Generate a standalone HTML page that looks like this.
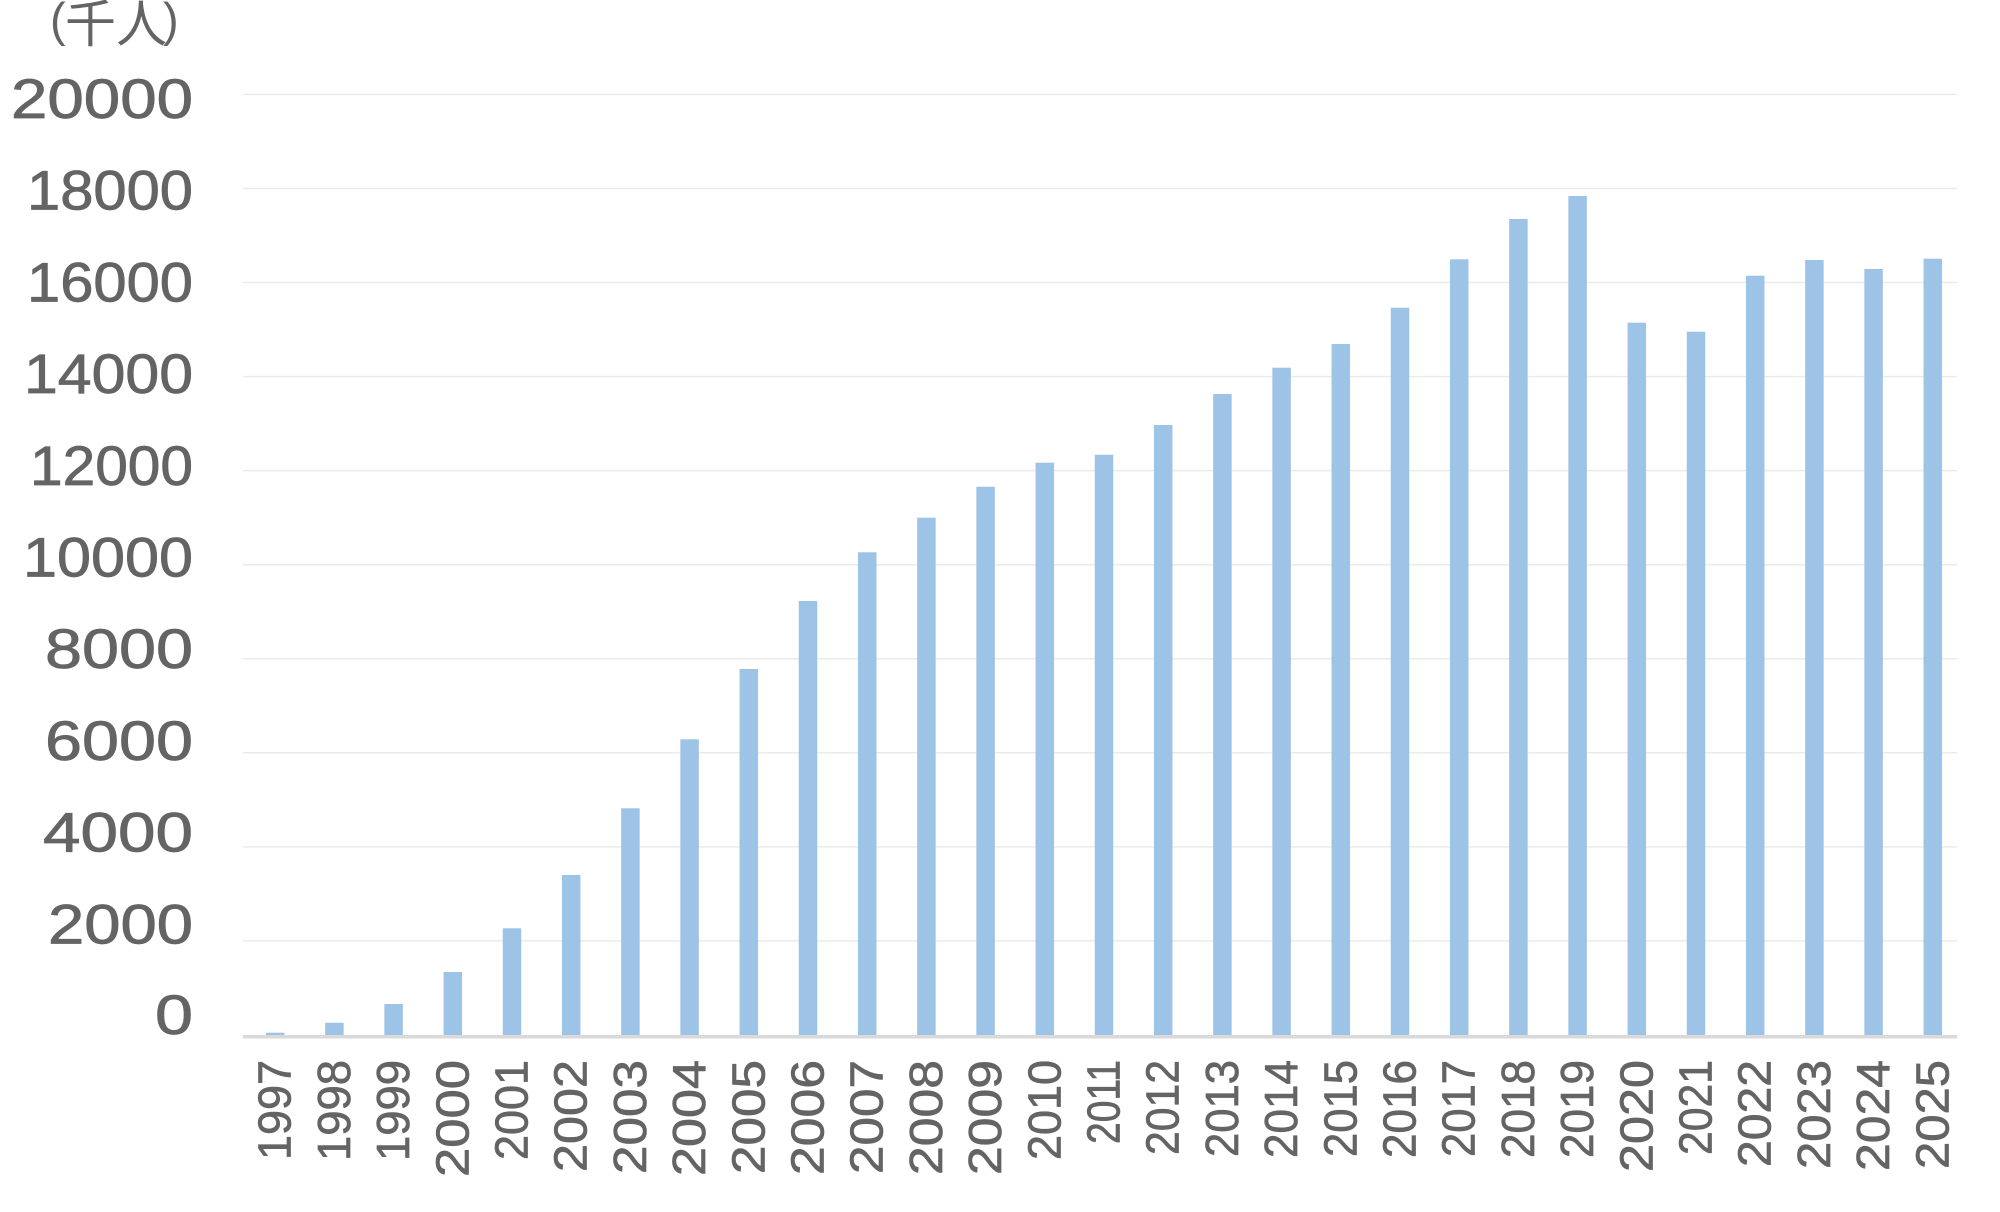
<!DOCTYPE html>
<html>
<head>
<meta charset="utf-8">
<style>
  html, body { margin:0; padding:0; background:#ffffff; }
  body { width:2000px; height:1212px; overflow:hidden; }
  svg { display:block; }
  .yl { font-family:"Liberation Sans", sans-serif; font-size:56px; fill:#646464; stroke:#646464; stroke-width:0.8; }
  .xl { font-family:"Liberation Sans", sans-serif; font-size:46px; fill:#646464; stroke:#646464; stroke-width:0.7; }
  .unit { fill:#646464; }
</style>
</head>
<body>
<svg width="2000" height="1212" viewBox="0 0 2000 1212" xmlns="http://www.w3.org/2000/svg">
  <rect x="0" y="0" width="2000" height="1212" fill="#ffffff"/>

  <!-- unit label -->
  <text class="unit" x="50" y="36" font-family="Liberation Sans, sans-serif" font-size="47">(</text>
  <text class="unit" x="65" y="42" font-family="Liberation Sans, 'Noto Sans CJK JP', sans-serif" font-size="51">千人</text>
  <text class="unit" x="163" y="36" font-family="Liberation Sans, sans-serif" font-size="47">)</text>

  <!-- gridlines -->
  <g stroke="#ebebeb" stroke-width="1.5">
    <line x1="243" y1="94.4" x2="1957" y2="94.4"/>
    <line x1="243" y1="188.5" x2="1957" y2="188.5"/>
    <line x1="243" y1="282.5" x2="1957" y2="282.5"/>
    <line x1="243" y1="376.6" x2="1957" y2="376.6"/>
    <line x1="243" y1="470.6" x2="1957" y2="470.6"/>
    <line x1="243" y1="564.7" x2="1957" y2="564.7"/>
    <line x1="243" y1="658.8" x2="1957" y2="658.8"/>
    <line x1="243" y1="752.8" x2="1957" y2="752.8"/>
    <line x1="243" y1="846.9" x2="1957" y2="846.9"/>
    <line x1="243" y1="940.9" x2="1957" y2="940.9"/>
  </g>

  <!-- y labels -->
  <g class="yl" text-anchor="end">
    <text x="193" y="118" textLength="182" lengthAdjust="spacingAndGlyphs">20000</text>
    <text x="193" y="209.7" textLength="166" lengthAdjust="spacingAndGlyphs">18000</text>
    <text x="193" y="301.4" textLength="166" lengthAdjust="spacingAndGlyphs">16000</text>
    <text x="193" y="393.1" textLength="169" lengthAdjust="spacingAndGlyphs">14000</text>
    <text x="193" y="484.8" textLength="163" lengthAdjust="spacingAndGlyphs">12000</text>
    <text x="193" y="576.5" textLength="170" lengthAdjust="spacingAndGlyphs">10000</text>
    <text x="193" y="668.2" textLength="148" lengthAdjust="spacingAndGlyphs">8000</text>
    <text x="193" y="759.9" textLength="148" lengthAdjust="spacingAndGlyphs">6000</text>
    <text x="193" y="851.6" textLength="150" lengthAdjust="spacingAndGlyphs">4000</text>
    <text x="193" y="943.3" textLength="145" lengthAdjust="spacingAndGlyphs">2000</text>
    <text x="193" y="1034" textLength="38" lengthAdjust="spacingAndGlyphs">0</text>
  </g>

  <!-- bars -->
  <g fill="#9dc3e6">
    <rect x="265.95" y="1032.7" width="18.5" height="2.3"/>
    <rect x="325.15" y="1022.7" width="18.5" height="12.3"/>
    <rect x="384.35" y="1004" width="18.5" height="31"/>
    <rect x="443.55" y="972" width="18.5" height="63"/>
    <rect x="502.75" y="928.3" width="18.5" height="106.7"/>
    <rect x="561.95" y="875" width="18.5" height="160"/>
    <rect x="621.15" y="808.3" width="18.5" height="226.7"/>
    <rect x="680.35" y="739.3" width="18.5" height="295.7"/>
    <rect x="739.55" y="669" width="18.5" height="366"/>
    <rect x="798.75" y="601" width="18.5" height="434"/>
    <rect x="857.95" y="552.3" width="18.5" height="482.7"/>
    <rect x="917.15" y="517.7" width="18.5" height="517.3"/>
    <rect x="976.35" y="486.7" width="18.5" height="548.3"/>
    <rect x="1035.55" y="462.7" width="18.5" height="572.3"/>
    <rect x="1094.75" y="454.7" width="18.5" height="580.3"/>
    <rect x="1153.95" y="425" width="18.5" height="610"/>
    <rect x="1213.15" y="394" width="18.5" height="641"/>
    <rect x="1272.35" y="367.7" width="18.5" height="667.3"/>
    <rect x="1331.55" y="344" width="18.5" height="691"/>
    <rect x="1390.75" y="307.7" width="18.5" height="727.3"/>
    <rect x="1449.95" y="259.3" width="18.5" height="775.7"/>
    <rect x="1509.15" y="219" width="18.5" height="816"/>
    <rect x="1568.35" y="196" width="18.5" height="839"/>
    <rect x="1627.55" y="322.7" width="18.5" height="712.3"/>
    <rect x="1686.75" y="331.7" width="18.5" height="703.3"/>
    <rect x="1745.95" y="275.7" width="18.5" height="759.3"/>
    <rect x="1805.15" y="260" width="18.5" height="775"/>
    <rect x="1864.35" y="269" width="18.5" height="766"/>
    <rect x="1923.55" y="258.7" width="18.5" height="776.3"/>
  </g>

  <!-- x axis line -->
  <line x1="243" y1="1036.7" x2="1957" y2="1036.7" stroke="#d9d9d9" stroke-width="3.5"/>

  <!-- x labels -->
  <g class="xl" text-anchor="end">
    <text transform="translate(290.7,1060) rotate(-90)" textLength="100" lengthAdjust="spacingAndGlyphs">1997</text>
    <text transform="translate(349.9,1060) rotate(-90)" textLength="101" lengthAdjust="spacingAndGlyphs">1998</text>
    <text transform="translate(409.1,1060) rotate(-90)" textLength="101" lengthAdjust="spacingAndGlyphs">1999</text>
    <text transform="translate(468.3,1060) rotate(-90)" textLength="117" lengthAdjust="spacingAndGlyphs">2000</text>
    <text transform="translate(527.5,1060) rotate(-90)" textLength="100" lengthAdjust="spacingAndGlyphs">2001</text>
    <text transform="translate(586.7,1060) rotate(-90)" textLength="112" lengthAdjust="spacingAndGlyphs">2002</text>
    <text transform="translate(645.9,1060) rotate(-90)" textLength="114" lengthAdjust="spacingAndGlyphs">2003</text>
    <text transform="translate(705.1,1060) rotate(-90)" textLength="116" lengthAdjust="spacingAndGlyphs">2004</text>
    <text transform="translate(764.3,1060) rotate(-90)" textLength="114" lengthAdjust="spacingAndGlyphs">2005</text>
    <text transform="translate(823.5,1060) rotate(-90)" textLength="115" lengthAdjust="spacingAndGlyphs">2006</text>
    <text transform="translate(882.7,1060) rotate(-90)" textLength="114" lengthAdjust="spacingAndGlyphs">2007</text>
    <text transform="translate(941.9,1060) rotate(-90)" textLength="115" lengthAdjust="spacingAndGlyphs">2008</text>
    <text transform="translate(1001.1,1060) rotate(-90)" textLength="115" lengthAdjust="spacingAndGlyphs">2009</text>
    <text transform="translate(1060.3,1060) rotate(-90)" textLength="100" lengthAdjust="spacingAndGlyphs">2010</text>
    <text transform="translate(1119.5,1060) rotate(-90)" textLength="84" lengthAdjust="spacingAndGlyphs">2011</text>
    <text transform="translate(1178.7,1060) rotate(-90)" textLength="95" lengthAdjust="spacingAndGlyphs">2012</text>
    <text transform="translate(1237.9,1060) rotate(-90)" textLength="97" lengthAdjust="spacingAndGlyphs">2013</text>
    <text transform="translate(1297.1,1060) rotate(-90)" textLength="98" lengthAdjust="spacingAndGlyphs">2014</text>
    <text transform="translate(1356.3,1060) rotate(-90)" textLength="97" lengthAdjust="spacingAndGlyphs">2015</text>
    <text transform="translate(1415.5,1060) rotate(-90)" textLength="98" lengthAdjust="spacingAndGlyphs">2016</text>
    <text transform="translate(1474.7,1060) rotate(-90)" textLength="97" lengthAdjust="spacingAndGlyphs">2017</text>
    <text transform="translate(1533.9,1060) rotate(-90)" textLength="98" lengthAdjust="spacingAndGlyphs">2018</text>
    <text transform="translate(1593.1,1060) rotate(-90)" textLength="98" lengthAdjust="spacingAndGlyphs">2019</text>
    <text transform="translate(1652.3,1060) rotate(-90)" textLength="112" lengthAdjust="spacingAndGlyphs">2020</text>
    <text transform="translate(1711.5,1060) rotate(-90)" textLength="95" lengthAdjust="spacingAndGlyphs">2021</text>
    <text transform="translate(1770.7,1060) rotate(-90)" textLength="107" lengthAdjust="spacingAndGlyphs">2022</text>
    <text transform="translate(1829.9,1060) rotate(-90)" textLength="109" lengthAdjust="spacingAndGlyphs">2023</text>
    <text transform="translate(1889.1,1060) rotate(-90)" textLength="111" lengthAdjust="spacingAndGlyphs">2024</text>
    <text transform="translate(1948.3,1060) rotate(-90)" textLength="109" lengthAdjust="spacingAndGlyphs">2025</text>
  </g>
</svg>
</body>
</html>
